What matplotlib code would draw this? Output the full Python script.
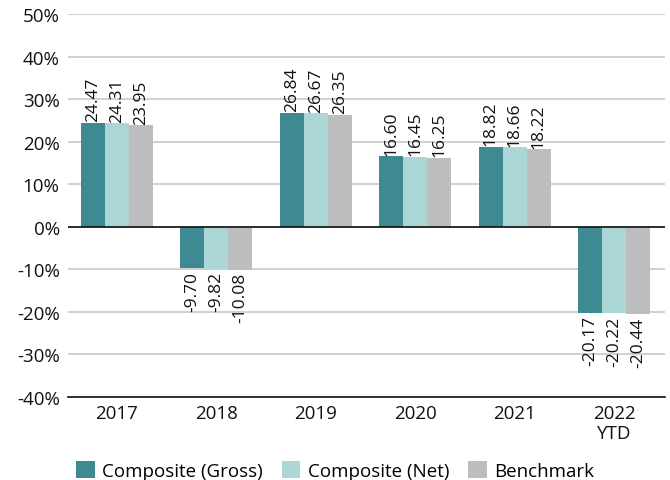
import matplotlib.pyplot as plt
import numpy as np

categories = ["2017", "2018", "2019", "2020", "2021", "2022\nYTD"]
gross = [24.47, -9.70, 26.84, 16.60, 18.82, -20.17]
net = [24.31, -9.82, 26.67, 16.45, 18.66, -20.22]
bench = [23.95, -10.08, 26.35, 16.25, 18.22, -20.44]
series_names = ["Composite (Gross)", "Composite (Net)", "Benchmark"]
colors = ["#3d8a93", "#acd6d5", "#bcbdbf"]

plt.rcParams['font.family'] = ['Open Sans', 'DejaVu Sans']

fig = plt.figure(figsize=(6.7, 4.81), dpi=100)
ax = fig.add_axes([0.1015, 0.1726, 0.891, 0.7962])

x = np.arange(len(categories))
w = 0.24
for i, (vals, name, c) in enumerate(zip([gross, net, bench], series_names, colors)):
    pos = x + (i - 1) * w
    ax.bar(pos, vals, w, color=c, label=name, zorder=3)
    for xp, v in zip(pos, vals):
        ax.text(xp, v + (0.3 if v > 0 else -0.6), f"{v:.2f}", rotation=90,
                ha='center', va='bottom' if v > 0 else 'top', fontsize=12.5,
                color='#111111', zorder=4)

ax.set_ylim(-40, 50)
ax.set_xlim(-0.49, 5.51)
ax.set_yticks(range(-40, 51, 10))
ax.set_yticklabels([f"{t}%" for t in range(-40, 51, 10)], fontsize=13.5)
ax.set_xticks(x)
ax.set_xticklabels(categories, fontsize=13.5, linespacing=1.15)
ax.tick_params(axis='both', length=0, colors='#111111')
ax.tick_params(axis='x', pad=5)
ax.tick_params(axis='y', pad=6)
ax.grid(axis='y', color='#c8c8c8', linewidth=1.2, zorder=0)
for s in ['top', 'right', 'left']:
    ax.spines[s].set_visible(False)
ax.spines['bottom'].set_color('#111111')
ax.spines['bottom'].set_linewidth(1.2)
ax.axhline(0, color='#111111', linewidth=1.2, zorder=4)

fig.legend(loc='lower center', bbox_to_anchor=(0.5, -0.035), ncol=3, frameon=False,
           fontsize=13.5, handlelength=1.0, handleheight=1.0, handletextpad=0.4,
           columnspacing=1.0)

fig.savefig("out.png", dpi=100)
